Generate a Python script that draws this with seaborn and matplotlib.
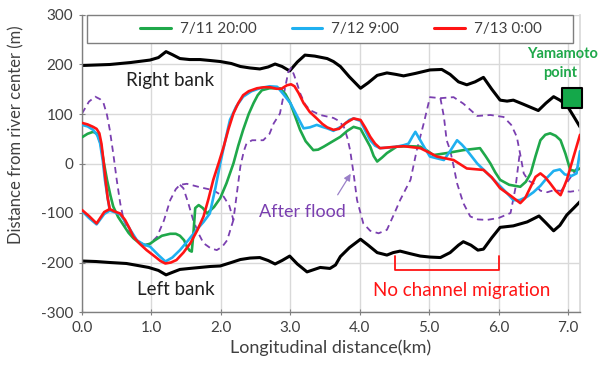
import matplotlib
matplotlib.use("Agg")
import matplotlib.pyplot as plt
import seaborn as sns
import pandas as pd
from matplotlib.patches import Rectangle

# ---------------- data ----------------
bank_r_x = [0, 0.2, 0.40, 0.7, 0.98, 1.10, 1.21, 1.30, 1.41, 1.55, 1.70, 1.85, 1.99, 2.15, 2.28,
            2.42, 2.56, 2.68, 2.78, 2.88, 2.99, 3.10, 3.21, 3.35, 3.53, 3.62, 3.72, 3.85, 4.01,
            4.12, 4.25, 4.39, 4.52, 4.63, 4.80, 5.01, 5.18, 5.30, 5.42, 5.54, 5.66, 5.78, 5.90,
            6.02, 6.12, 6.21, 6.35, 6.57, 6.68, 6.79, 6.88, 6.98, 7.08, 7.17]
bank_r_y = [198, 199, 200, 204, 209, 214, 226, 220, 212, 210, 210, 208, 206, 202, 196,
            193, 191, 195, 201, 196, 187, 205, 219, 217, 212, 206, 196, 175, 152,
            163, 178, 183, 180, 177, 182, 189, 190, 180, 165, 159, 165, 174, 150,
            128, 126, 128, 120, 107, 122, 135, 128, 118, 95, 74]

bank_l_x = [0, 0.2, 0.40, 0.64, 0.96, 1.10, 1.21, 1.30, 1.41, 1.55, 1.70, 1.85, 1.99, 2.15, 2.28,
            2.42, 2.56, 2.68, 2.78, 2.88, 2.99, 3.10, 3.24, 3.43, 3.57, 3.65, 3.72, 3.85, 4.01,
            4.12, 4.25, 4.39, 4.48, 4.58, 4.72, 4.87, 5.01, 5.16, 5.30, 5.42, 5.49, 5.60, 5.70,
            5.78, 5.90, 6.02, 6.21, 6.41, 6.58, 6.68, 6.79, 6.88, 6.98, 7.08, 7.17]
bank_l_y = [-197, -198, -200, -202, -210, -216, -225, -220, -214, -212, -210, -208, -207, -200, -194,
            -191, -190, -196, -203, -196, -187, -203, -219, -210, -212, -205, -188, -170, -153,
            -165, -180, -185, -180, -177, -182, -187, -189, -190, -180, -165, -158, -165, -175,
            -173, -150, -129, -126, -118, -106, -120, -136, -125, -104, -90, -77]

green_x = [0, 0.08, 0.16, 0.22, 0.27, 0.31, 0.36, 0.41, 0.45, 0.52, 0.60, 0.67, 0.74, 0.82, 0.91,
           0.98, 1.05, 1.15, 1.27, 1.35, 1.41, 1.47, 1.51, 1.55, 1.58, 1.605, 1.63, 1.68, 1.74,
           1.80, 1.90, 1.99, 2.08, 2.18, 2.25, 2.32, 2.40, 2.47, 2.53, 2.59, 2.70, 2.85, 2.93,
           3.0, 3.07, 3.14, 3.22, 3.33, 3.40, 3.48, 3.60, 3.72, 3.82, 3.91, 4.01, 4.08, 4.15,
           4.20, 4.25, 4.32, 4.39, 4.53, 4.70, 4.87, 4.97, 5.06, 5.25, 5.49, 5.73, 5.81, 5.88,
           5.95, 6.02, 6.15, 6.31, 6.39, 6.46, 6.53, 6.60, 6.67, 6.74, 6.82, 6.89, 6.96, 7.03,
           7.10, 7.17]
green_y = [53, 60, 64, 60, 40, 5, -33, -65, -87, -108, -125, -140, -151, -160, -165,
           -162, -155, -146, -142, -142, -146, -155, -168, -176, -178, -140, -90, -84, -90,
           -101, -88, -70, -40, 0, 36, 68, 100, 122, 138, 148, 152, 152, 140,
           122, 95, 68, 45, 27, 28, 34, 44, 54, 66, 74, 70, 52, 34,
           15, 4, 12, 21, 34, 35, 34, 26, 17, 21, 27, 31, 15, 0,
           -18, -33, -43, -47, -37, -20, 15, 47, 58, 61, 56, 47, 20, -13,
           -15, -10]

blue_x = [0, 0.08, 0.16, 0.22, 0.26, 0.30, 0.33, 0.37, 0.40, 0.48, 0.55, 0.62, 0.70, 0.79, 0.88,
          0.98, 1.10, 1.20, 1.30, 1.41, 1.53, 1.65, 1.75, 1.84, 1.92, 1.99, 2.06, 2.13, 2.22,
          2.32, 2.44, 2.56, 2.70, 2.81, 2.90, 3.0, 3.10, 3.19, 3.28, 3.38, 3.46, 3.53, 3.62,
          3.75, 3.85, 3.91, 4.01, 4.08, 4.15, 4.22, 4.29, 4.40, 4.53, 4.63, 4.70, 4.76, 4.80,
          4.87, 4.94, 5.01, 5.21, 5.30, 5.40, 5.47, 5.54, 5.69, 5.80, 5.93, 6.12, 6.21, 6.30,
          6.41, 6.50, 6.60, 6.70, 6.79, 6.88, 6.95, 7.05, 7.12, 7.17]
blue_y = [78, 75, 68, 57, 41, 5, -33, -70, -95, -99, -103, -117, -135, -155, -163,
          -168, -185, -198, -190, -175, -155, -134, -118, -101, -50, 0, 45, 88, 115,
          135, 146, 152, 156, 155, 140, 122, 95, 71, 73, 78, 74, 71, 66,
          76, 88, 91, 86, 66, 47, 36, 31, 32, 34, 37, 40, 55, 64,
          47, 30, 14, 7, 25, 47, 38, 27, 0, -15, -33, -60, -74, -74,
          -67, -58, -45, -28, -15, -12, -22, -25, -20, 25]
blue_low_x = [0, 0.10, 0.21, 0.32, 0.40]
blue_low_y = [-96, -110, -123, -102, -95]

red_x = [0, 0.08, 0.16, 0.21, 0.25, 0.28, 0.31, 0.34, 0.37, 0.40, 0.47, 0.55, 0.62, 0.68, 0.74,
         0.83, 0.93, 1.05, 1.13, 1.20, 1.28, 1.36, 1.46, 1.56, 1.66, 1.75, 1.82, 1.89, 1.97,
         2.04, 2.11, 2.18, 2.25, 2.32, 2.40, 2.52, 2.62, 2.71, 2.80, 2.87, 2.95, 3.01, 3.06,
         3.12, 3.19, 3.28, 3.38, 3.46, 3.53, 3.62, 3.70, 3.80, 3.91, 4.01, 4.08, 4.15, 4.22,
         4.29, 4.45, 4.63, 4.87, 5.00, 5.11, 5.35, 5.54, 5.78, 5.90, 6.02, 6.17, 6.31, 6.38,
         6.46, 6.53, 6.60, 6.67, 6.74, 6.82, 6.89, 6.98, 7.08, 7.17]
red_y = [82, 79, 74, 70, 61, 40, 5, -35, -70, -92, -97, -101, -114, -130, -148,
         -162, -175, -188, -197, -202, -200, -195, -180, -161, -135, -107, -72, -33, 2,
         34, 70, 101, 122, 138, 146, 152, 154, 154, 151, 151, 158, 160, 156,
         142, 122, 104, 91, 80, 73, 68, 70, 82, 91, 88, 72, 54, 40,
         31, 33, 35, 31, 22, 14, 7, -10, -13, -28, -50, -65, -80, -70,
         -47, -27, -20, -28, -40, -55, -64, -33, 15, 58]
red_low_x = [0, 0.10, 0.21, 0.32, 0.40]
red_low_y = [-94, -106, -121, -98, -92]

purple_x = [0, 0.10, 0.19, 0.26, 0.31, 0.36, 0.40, 0.45, 0.50, 0.55, 0.60, 0.67, 0.74, 0.81,
            0.88, 0.98, 1.08, 1.18, 1.27, 1.35, 1.41, 1.51, 1.70, 1.89, 2.04, 2.12, 2.18, 2.23,
            2.28, 2.33, 2.37, 2.45, 2.61, 2.70, 2.76, 2.85, 2.92, 2.97, 3.01, 3.05, 3.10, 3.14,
            3.21, 3.28, 3.43, 3.62, 3.70, 3.77, 3.82, 3.86, 3.91, 3.96, 4.05, 4.15, 4.27, 4.39,
            4.50, 4.58, 4.66, 4.73, 4.82, 4.92, 5.01, 5.16, 5.35, 5.49, 5.69, 5.88, 6.07, 6.18,
            6.26, 6.31, 6.36, 6.43, 6.50, 6.60, 6.70, 6.79, 7.03, 7.17]
purple_y = [101, 125, 135, 130, 122, 98, 68, 20, -33, -80, -114, -135, -148, -158,
            -165, -162, -148, -115, -74, -52, -43, -41, -48, -54, -67, -85, -114, -60,
            -6, 25, 41, 47, 47, 60, 81, 101, 150, 185, 193, 180, 160, 142,
            120, 108, 98, 92, 86, 74, 52, 27, -20, -74, -121, -136, -141, -134,
            -100, -74, -52, -33, 27, 81, 134, 132, 134, 121, 96, 98, 94, 78,
            54, 18, -20, -35, -40, -55, -58, -54, -57, -54]
purple_loop1_x = [1.41, 1.46, 1.53, 1.60, 1.68, 1.75, 1.85, 1.94, 2.02, 2.09, 2.18]
purple_loop1_y = [-43, -50, -80, -114, -142, -161, -171, -175, -168, -155, -114]
purple_loop2_x = [5.16, 5.21, 5.25, 5.30, 5.35, 5.40, 5.49, 5.59, 5.70, 5.83, 6.00, 6.17, 6.24, 6.30]
purple_loop2_y = [132, 95, 47, 27, -5, -40, -80, -107, -113, -114, -110, -100, -50, 18]
purple_end_x = [6.90, 7.00, 7.17]
purple_end_y = [-55, -35, 0]

legend_labels = ["7/11 20:00", "7/12 9:00", "7/13 0:00"]
x_ticks = [0, 1, 2, 3, 4, 5, 6, 7]
y_ticks = [-300, -200, -100, 0, 100, 200, 300]

# ---------------- style ----------------
sns.set_theme(style="whitegrid")
plt.rcParams["font.family"] = ["Lato", "DejaVu Sans"]
plt.rcParams["lines.solid_joinstyle"] = "round"
plt.rcParams["lines.dash_joinstyle"] = "round"

GREEN = "#1fa84a"
BLUE = "#1fb0f0"
RED = "#ff1414"
PURPLE = "#7a3fb0"
TXT = "#404040"

fig = plt.figure(figsize=(6.01, 3.74), dpi=100)
ax = fig.add_axes([82 / 601, 1 - 312 / 374, 498 / 601, 297 / 374])


def line(x, y, color, lw, label=None, z=2, dashes=None):
    d = pd.DataFrame({"x": x, "y": y})
    sns.lineplot(data=d, x="x", y="y", sort=False, estimator=None, color=color,
                 linewidth=lw, label=label, ax=ax, zorder=z)
    ln = ax.lines[-1]
    ln.set_solid_joinstyle("round")
    ln.set_solid_capstyle("round")
    if dashes is not None:
        ln.set_dashes(dashes)


line(bank_r_x, bank_r_y, "black", 2.2)
line(bank_l_x, bank_l_y, "black", 2.2)
for px_, py_ in [(purple_x, purple_y), (purple_loop1_x, purple_loop1_y),
                 (purple_loop2_x, purple_loop2_y), (purple_end_x, purple_end_y)]:
    line(px_, py_, PURPLE, 1.3, dashes=[3.5, 2.5])

line(green_x, green_y, GREEN, 1.9, label=legend_labels[0], z=3)
line(blue_x, blue_y, BLUE, 1.9, label=legend_labels[1], z=4)
line(blue_low_x, blue_low_y, BLUE, 1.9, z=4)
line(red_x, red_y, RED, 1.9, label=legend_labels[2], z=5)
line(red_low_x, red_low_y, RED, 1.9, z=5)

ax.set_xlim(0, 7.17)
ax.set_ylim(-300, 300)
ax.set_xticks(x_ticks)
ax.set_xticklabels([f"{v:.1f}" for v in x_ticks])
ax.set_yticks(y_ticks)
ax.set_yticklabels([str(v) for v in y_ticks])
ax.tick_params(axis="both", labelsize=11, colors=TXT, direction="inout", length=5,
               width=0.8, color="#7f7f7f", pad=4, left=True, bottom=True)
ax.grid(True, color="#d9d9d9", linewidth=1.0)
ax.set_axisbelow(True)
for s in ["left", "bottom"]:
    ax.spines[s].set_color("#7f7f7f")
    ax.spines[s].set_linewidth(1.0)
ax.spines["right"].set_color("#d9d9d9")
ax.spines["top"].set_visible(False)

ax.set_xlabel("Longitudinal distance(km)", fontsize=13, color=TXT, labelpad=3)
ax.set_ylabel("Distance from river center (m)", fontsize=12, color=TXT, labelpad=6)
ax.yaxis.set_label_coords(-0.115, 0.596)

# legend
ax.add_patch(Rectangle((5 / 498, (312 - 43) / 297), (573 - 87) / 498, 28 / 297,
                       transform=ax.transAxes, facecolor="white", edgecolor="#7f7f7f",
                       linewidth=1.0, zorder=6, clip_on=False))
leg = ax.legend(loc="center", bbox_to_anchor=((341 - 82) / 498, (312 - 29) / 297),
                ncol=3, frameon=False, fontsize=11, handlelength=2.0, handletextpad=0.6,
                columnspacing=2.3, labelcolor=TXT)
leg.set_zorder(7)
for h in leg.get_lines():
    h.set_linewidth(2.2)

# annotations
ax.text(1.27, 167, "Right bank", fontsize=13.5, color="#202020", ha="center", va="center")
ax.text(1.35, -254, "Left bank", fontsize=13.5, color="#202020", ha="center", va="center")
ax.text(3.17, -97, "After flood", fontsize=13, color=PURPLE, ha="center", va="center")
ax.annotate("", xy=(3.89, -16), xytext=(3.66, -68),
            arrowprops=dict(arrowstyle="-|>", color="#9a80c8", lw=0.9, mutation_scale=10))
ax.text(5.46, -256, "No channel migration", fontsize=13.5, color=RED, ha="center", va="center")
ax.plot([4.5, 4.5, 6.0, 6.0], [-187, -216, -216, -187], color=RED, lw=1.3, zorder=3)
ax.text(6.92, 221, "Yamamoto", fontsize=10.5, color="#1fa84a", fontweight="bold",
        ha="center", va="center", clip_on=False)
ax.text(6.88, 183, "point", fontsize=10.5, color="#1fa84a", fontweight="bold",
        ha="center", va="center", clip_on=False)
ax.scatter([7.06], [133], marker="s", s=190, color="#14a84a", edgecolor="black",
           linewidth=1.5, zorder=8, clip_on=False)

fig.savefig("out.png", dpi=100)
